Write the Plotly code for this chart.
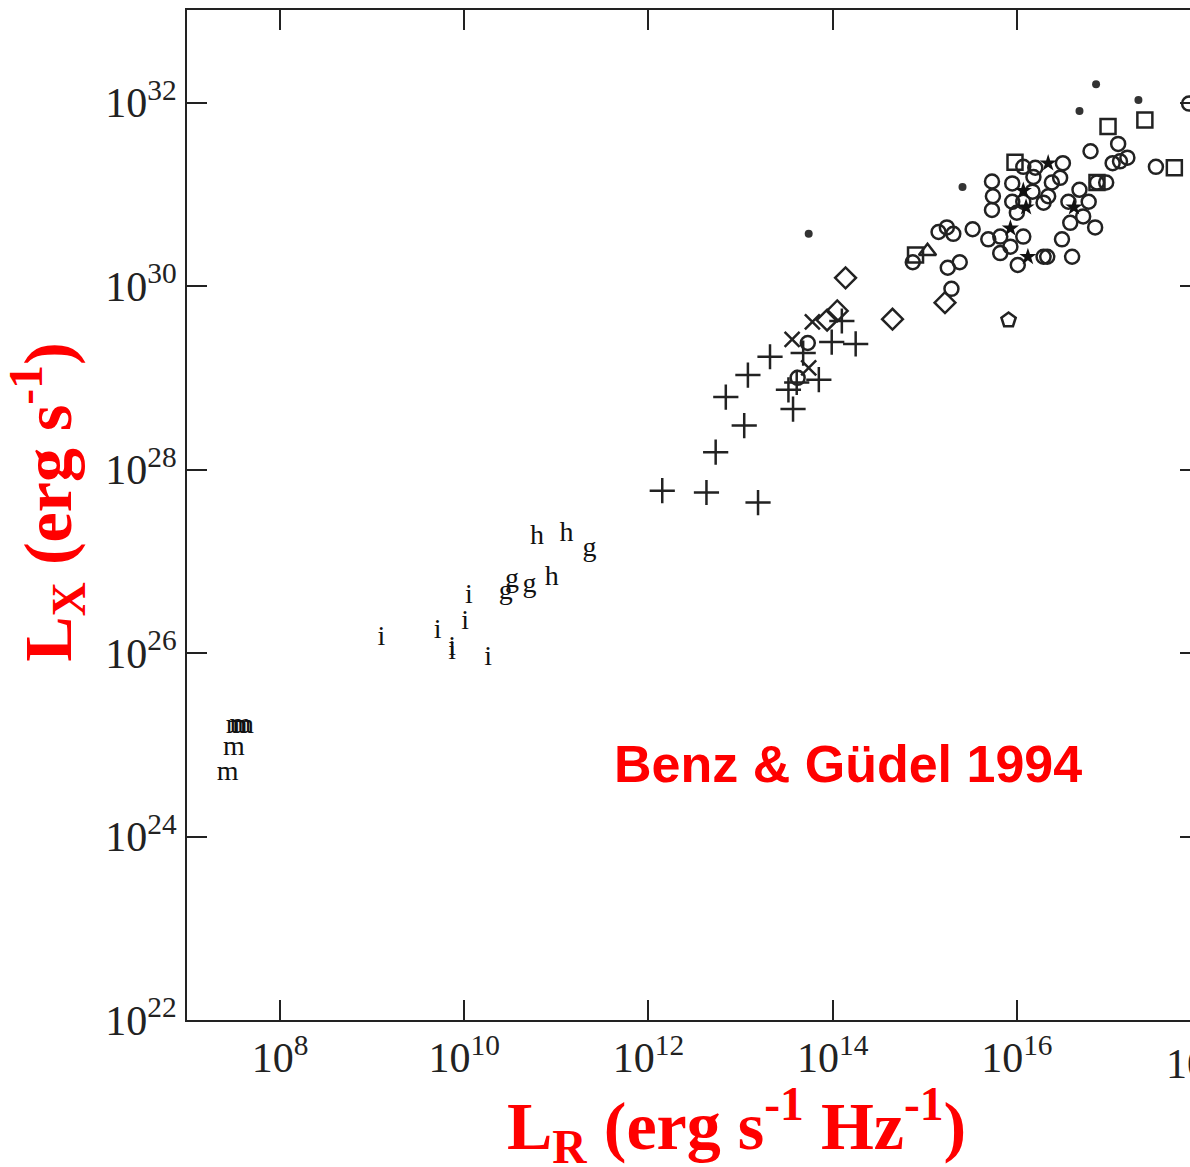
import plotly.graph_objects as go

# ---- data (log10 values) ----
# text-symbol groups
m_lr = [7.43, 7.50, 7.53, 7.60, 7.57]
m_lx = [24.69, 24.97, 25.20, 25.20, 25.22]

i_lr = [9.10, 9.71, 9.87, 9.87, 10.01, 10.05, 10.26]
i_lx = [26.16, 26.24, 26.06, 26.01, 26.34, 26.62, 25.95]

g_lr = [10.45, 10.52, 10.71, 11.36]
g_lx = [26.67, 26.80, 26.74, 27.13]

h_lr = [10.79, 11.11, 10.95]
h_lx = [27.27, 27.30, 26.82]

# plus signs
plus_lr = [12.15, 12.63, 13.19, 12.73, 13.04, 12.84, 13.08, 13.32, 13.57, 13.52,
           13.61, 13.85, 13.68, 13.99, 14.25, 14.10]
plus_lx = [27.77, 27.75, 27.64, 28.19, 28.48, 28.79, 29.03, 29.23, 28.66, 28.87,
           28.95, 28.98, 29.27, 29.39, 29.37, 29.62]

# crosses
cross_lr = [13.78, 13.56, 13.74]
cross_lx = [29.61, 29.42, 29.11]

# diamonds
dia_lr = [13.94, 14.05, 14.14, 14.65, 15.22]
dia_lx = [29.63, 29.73, 30.09, 29.64, 29.82]

# small filled dots
dot_lr = [13.74, 15.41, 16.68, 16.86, 17.32]
dot_lx = [30.57, 31.08, 31.91, 32.20, 32.03]

# squares
sq_lr = [14.90, 15.98, 16.99, 17.39, 17.71, 16.87]
sq_lx = [30.34, 31.35, 31.74, 31.81, 31.29, 31.13]

# triangle
tri_lr = [15.03]
tri_lx = [30.38]

# pentagon
pent_lr = [15.91]
pent_lx = [29.63]

# asterisks
ast_lr = [16.34, 16.07, 16.10, 15.93, 16.12, 16.62]
ast_lx = [31.34, 31.04, 30.86, 30.63, 30.32, 30.86]

# open circles
circ_lr = [13.73, 13.62, 14.87, 15.15, 15.24, 15.31, 15.52, 15.25, 15.38, 15.29,
           15.73, 15.74, 15.73, 15.95, 15.95, 16.07, 16.17, 16.00, 16.07, 16.20,
           16.18, 16.38, 16.47, 16.50, 16.34, 16.29, 15.69, 15.82, 15.93, 15.82,
           16.07, 16.01, 16.29, 16.33, 16.49, 16.60, 16.56, 16.68, 16.78, 16.58,
           16.72, 16.85, 16.80, 17.10, 17.04, 17.12, 17.20, 16.87, 16.97, 17.51,
           17.87]
circ_lx = [29.38, 29.00, 30.26, 30.59, 30.64, 30.57, 30.62, 30.20, 30.26, 29.97,
           31.14, 30.98, 30.83, 31.12, 30.92, 30.92, 31.03, 30.80, 31.30, 31.29,
           31.19, 31.13, 31.18, 31.34, 30.98, 30.91, 30.51, 30.54, 30.43, 30.36,
           30.54, 30.23, 30.32, 30.32, 30.51, 30.32, 30.92, 31.05, 30.92, 30.69,
           30.76, 30.64, 31.47, 31.55, 31.34, 31.36, 31.40, 31.13, 31.13, 31.30,
           31.99]

x_tick_exp = [8, 10, 12, 14, 16]
y_tick_exp = [22, 24, 26, 28, 30, 32]

INK = "#222222"

fig = go.Figure()


def pts(v):
    return [10.0 ** a for a in v]


def add_text(lr, lx, ch):
    fig.add_trace(go.Scatter(
        x=pts(lr), y=pts(lx), mode="text", text=[ch] * len(lr),
        textfont=dict(family="Liberation Serif", size=28, color="#111"),
        showlegend=False, hoverinfo="skip"))


def add_mark(lr, lx, symbol, size, lw=2):
    fig.add_trace(go.Scatter(
        x=pts(lr), y=pts(lx), mode="markers",
        marker=dict(symbol=symbol, size=size, color=INK,
                    line=dict(color=INK, width=lw)),
        showlegend=False, hoverinfo="skip"))


add_text(m_lr, m_lx, "m")
add_text(i_lr, i_lx, "i")
add_text(g_lr, g_lx, "g")
add_text(h_lr, h_lx, "h")

add_mark(plus_lr, plus_lx, "cross-thin-open", 18, 2.5)
add_mark(cross_lr, cross_lx, "x-thin-open", 15, 2.5)
add_mark(circ_lr, circ_lx, "circle-open", 14, 2.5)
add_mark(dia_lr, dia_lx, "diamond-open", 16, 2.5)
add_mark(sq_lr, sq_lx, "square-open", 15, 2.5)
add_mark(tri_lr, tri_lx, "triangle-up-open", 15, 2.5)
add_mark(pent_lr, pent_lx, "pentagon-open", 15, 2.5)
fig.add_trace(go.Scatter(x=pts(dot_lr), y=pts(dot_lx), mode="markers",
                         marker=dict(symbol="circle", size=8, color="#333"),
                         yaxis="y2",
                         showlegend=False, hoverinfo="skip"))
fig.add_trace(go.Scatter(x=pts(ast_lr), y=pts(ast_lx), mode="markers",
                         marker=dict(symbol="star", size=13, color="#111"),
                         showlegend=False, hoverinfo="skip"))

tickfont = dict(family="Liberation Serif", size=42, color="#222")
ytv = [10.0 ** e for e in y_tick_exp]
ytt = ["10<sup>%d</sup>" % e for e in y_tick_exp]

fig.update_layout(
    width=1190, height=1167,
    margin=dict(l=187, r=0, t=10, b=147),
    paper_bgcolor="white", plot_bgcolor="white",
    xaxis=dict(type="log", range=[6.99, 17.88],
               tickvals=[10.0 ** e for e in x_tick_exp],
               ticktext=["10<sup>%d</sup>" % e for e in x_tick_exp],
               ticks="inside", ticklen=20, tickwidth=2, tickcolor=INK,
               showline=True, linewidth=2, linecolor=INK, mirror="ticks",
               showgrid=False, zeroline=False, tickfont=tickfont),
    yaxis=dict(type="log", range=[22.0, 33.01],
               tickvals=ytv, ticktext=ytt,
               ticks="inside", ticklen=20, tickwidth=2, tickcolor=INK,
               showline=True, linewidth=2, linecolor=INK,
               showgrid=False, zeroline=False, tickfont=tickfont),
    yaxis2=dict(type="log", range=[22.0, 33.01], overlaying="y", side="right",
                tickvals=ytv, ticks="inside", ticklen=10, tickwidth=2,
                tickcolor=INK, showline=False, showticklabels=False,
                showgrid=False, zeroline=False),
)

annots = [
    dict(text="<b>L<sub>R</sub> (erg s<sup>-1</sup> Hz<sup>-1</sup>)</b>",
         x=0.548, y=-0.104, xref="paper", yref="paper",
         xanchor="center", yanchor="middle", showarrow=False,
         font=dict(family="Liberation Serif", size=68, color="#ff0000")),
    dict(text="<b>L<sub>X</sub> (erg s<sup>-1</sup>)</b>",
         x=-0.1386, y=0.513, xref="paper", yref="paper", textangle=-90,
         xanchor="center", yanchor="middle", showarrow=False,
         font=dict(family="Liberation Serif", size=68, color="#ff0000")),
    dict(text="<b>Benz &amp; Güdel 1994</b>",
         x=0.659, y=0.2535, xref="paper", yref="paper",
         xanchor="center", yanchor="middle", showarrow=False,
         font=dict(family="Liberation Sans", size=52, color="#ff0000")),
    dict(text="10<sup>18</sup>", x=1.011, y=-0.04, xref="paper", yref="paper",
         xanchor="center", yanchor="middle", showarrow=False, font=tickfont),
]
fig.update_layout(annotations=annots)

fig.write_html("out.html")
